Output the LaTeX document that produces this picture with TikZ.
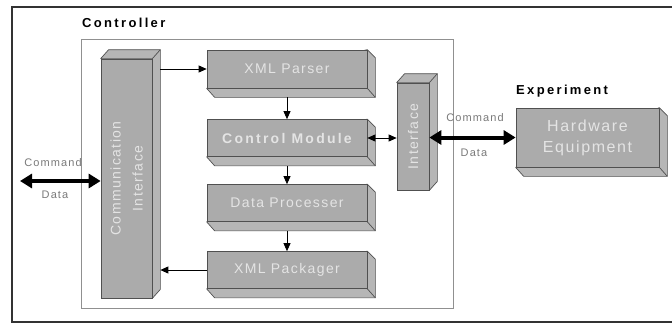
\documentclass[tikz,border=0pt]{standalone}
\usepackage{fontspec}
\setmainfont{Liberation Sans}
\newfontfamily\boxfont[LetterSpace=10]{Liberation Sans}
\newfontfamily\boldboxfont[LetterSpace=16]{Liberation Sans}
\newfontfamily\titlefont[LetterSpace=18]{Liberation Sans}
\usetikzlibrary{arrows.meta,backgrounds,calc}
\definecolor{boxfill}{HTML}{ABABAB}
\definecolor{boxside}{HTML}{B6B6B6}
\definecolor{boxline}{HTML}{505050}
\definecolor{boxtext}{HTML}{E4E4E4}
\definecolor{innerline}{HTML}{909090}
\definecolor{labelgray}{HTML}{7A7A7A}
\begin{document}
\begin{tikzpicture}[x=1pt,y=-1pt,
  front/.style={draw=boxline, fill=boxfill, line width=0.7pt, inner sep=0pt, text=boxtext,
                font=\boxfont\fontsize{14}{16}\selectfont},
  face/.style={draw=boxline, fill=boxside, line width=0.7pt, line join=round},
  edge/.style={draw=boxline, line width=0.7pt},
  arr/.style={-{Triangle[length=8pt,width=7pt]}, line width=0.8pt},
  dbl/.style={{Triangle[length=8pt,width=7pt]}-{Triangle[length=8pt,width=7pt]}, line width=0.8pt},
  thickarr/.style={{Triangle[length=12pt,width=14pt]}-{Triangle[length=12pt,width=14pt]}, line width=4pt},
  small/.style={text=labelgray, font=\boxfont\fontsize{11}{12}\selectfont, inner sep=0pt},
  title/.style={font=\titlefont\bfseries\fontsize{13}{15}\selectfont, inner sep=0pt, anchor=west}
]
\useasboundingbox (0,0) rectangle (672,325);

% frames
\draw[line width=2pt, draw=black!80] (674,7) -- (12,7) -- (12,322) -- (674,322);
\draw[innerline, line width=1pt] (81,39) rectangle (453,308);

\node[title] (ctrltitle) at (82,23) {Controller};
\node[title] (exptitle) at (516,91) {Experiment};

% front faces
\node[front, minimum width=51pt, minimum height=239pt,
  label={[rotate=90, align=center, text=boxtext, font=\boxfont\fontsize{14}{22}\selectfont]center:Communication\\Interface}]
  (comm) at (126.5,178.5) {};
\node[front, minimum width=32pt, minimum height=107pt,
  label={[rotate=90, text=boxtext, font=\boxfont\fontsize{14}{16}\selectfont]center:Interface}]
  (iface) at (413,136.5) {};
\node[front, minimum width=160pt, minimum height=38pt] (parser) at (287,69) {XML Parser};
\node[front, minimum width=160pt, minimum height=37pt, font=\boldboxfont\bfseries\fontsize{14}{16}\selectfont] (ctrl) at (287,138) {Control Module};
\node[front, minimum width=160pt, minimum height=37pt] (proc) at (287,203) {Data Processer};
\node[front, minimum width=160pt, minimum height=37pt] (pack) at (287,270) {XML Packager};
\node[front, minimum width=143pt, minimum height=59pt, align=center,
  font=\boxfont\fontsize{16}{21}\selectfont] (hw) at (587.5,137.5) {Hardware\\Equipment};

% extrusions
\begin{scope}[on background layer]
\fill[white] (0,0) rectangle (672,325);
\foreach \n in {parser,ctrl,proc,pack,hw}{
  \draw[face] (\n.north east) -- ++(8,8) -- ($(\n.south east)+(8,9)$) -- ($(\n.south west)+(8,9)$) -- (\n.south west) -- cycle;
  \draw[edge] (\n.south east) -- ++(8,9);
}
\foreach \n in {comm,iface}{
  \draw[face] (\n.south east) -- (\n.north east) -- (\n.north west) -- ++(8,-9) -- ($(\n.north east)+(8,-9)$) -- ($(\n.south east)+(8,-9)$) -- cycle;
  \draw[edge] (\n.north east) -- ++(8,-9);
}
\end{scope}

% connectors
\draw[arr] (comm.east |- parser.west) ++(8,0) -- (parser.west);
\draw[arr] (parser.south) ++(0,9) -- (ctrl.north);
\draw[arr] (ctrl.south) ++(0,9) -- (proc.north);
\draw[arr] (proc.south) ++(0,9) -- (pack.north);
\draw[arr] (pack.west) -- ($(comm.east |- pack.west)+(8,0)$);
\draw[dbl] (ctrl.east) -- (iface.west |- ctrl.east);
\draw[thickarr] (iface.east |- hw.west) -- (hw.west);
\coordinate (extL) at (20,181);
\draw[thickarr] (extL) -- (extL -| comm.west);

% labels
\node[small] (cmdR) at (475,118) {Command};
\node[small] (dataR) at (474,153) {Data};
\node[small] (cmdL) at (53,163) {Command};
\node[small] (dataL) at (55,195) {Data};
\end{tikzpicture}
\end{document}
